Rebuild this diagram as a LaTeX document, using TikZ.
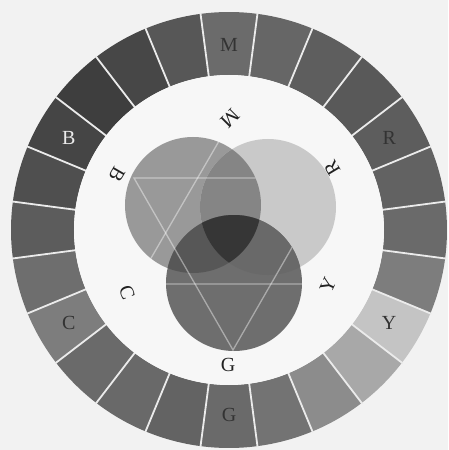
\documentclass[tikz,border=0pt]{standalone}
\usepackage{fontspec}
\setmainfont{Liberation Serif}
\definecolor{bgc}{gray}{0.95}
\definecolor{innerc}{gray}{0.97}
\definecolor{lonly}{gray}{0.60}
\definecolor{ronly}{gray}{0.79}
\definecolor{lr}{gray}{0.52}
\definecolor{bonly}{gray}{0.43}
\definecolor{lb}{gray}{0.34}
\definecolor{rb}{gray}{0.41}
\definecolor{lrb}{gray}{0.21}
\definecolor{darktext}{gray}{0.2}
\definecolor{innertext}{gray}{0.13}
\begin{document}
\begin{tikzpicture}[x=1pt,y=1pt,
  lbl/.style={font=\fontsize{20}{20}\selectfont, inner sep=0pt},
  sepline/.style={draw=white!92!black, line width=1.8pt},
  triline/.style={draw=white, draw opacity=0.42, line width=1.3pt}]
\useasboundingbox (-229,-220) rectangle (219,230);
\fill[bgc] (-229,-220) rectangle (219,230);
% outer ring
\foreach \a/\g in {90/0.42,75/0.40,60/0.37,45/0.35,30/0.365,15/0.385,0/0.415,-15/0.49,
  -30/0.77,-45/0.66,-60/0.55,-75/0.45,-90/0.415,-105/0.39,-120/0.41,-135/0.415,
  -150/0.49,-165/0.43,180/0.36,165/0.31,150/0.27,135/0.245,120/0.28,105/0.34}{
  \definecolor{segc}{gray}{\g}
  \fill[segc] (\a-7.5:155) arc[start angle=\a-7.5, end angle=\a+7.5, radius=155]
    -- (\a+7.5:218) arc[start angle=\a+7.5, end angle=\a-7.5, radius=218] -- cycle;
}
\foreach \k in {0,...,23}{
  \draw[sepline] (\k*15+7.5:154) -- (\k*15+7.5:219);
}
\fill[innerc] (0,0) circle[radius=155];
% circles
\coordinate (cL) at (-36,25);
\coordinate (cR) at (39,23);
\coordinate (cB) at (5,-53);
\fill[lonly] (cL) circle[radius=68];
\fill[ronly] (cR) circle[radius=68];
\begin{scope}
  \clip (cL) circle[radius=68];
  \fill[lr] (cR) circle[radius=68];
\end{scope}
\fill[bonly] (cB) circle[radius=68];
\begin{scope}
  \clip (cB) circle[radius=68];
  \fill[lb] (cL) circle[radius=68];
  \fill[rb] (cR) circle[radius=68];
  \clip (cL) circle[radius=68];
  \fill[lrb] (cR) circle[radius=68];
\end{scope}
% triangle lines (visible only over the two darker circles)
\coordinate (d1) at (-95,52);
\coordinate (d2) at (103,52);
\coordinate (d3) at (4,-120);
\coordinate (u1) at (4,113);
\coordinate (u2) at (-93,-54);
\coordinate (u3) at (101,-54);
\begin{scope}
  \clip (cL) circle[radius=68] (cB) circle[radius=68];
  \draw[triline] (d1) -- (d2) -- (d3) -- cycle;
  \draw[triline] (u1) -- (u2) -- (u3) -- cycle;
\end{scope}
% outer labels
\node[lbl, text=darktext] (oM) at (90:185) {M};
\node[lbl, text=darktext] (oR) at (30:185) {R};
\node[lbl, text=darktext] (oY) at (-30:185) {Y};
\node[lbl, text=darktext] (oG) at (-90:185) {G};
\node[lbl, text=darktext] (oC) at (210:185) {C};
\node[lbl, text=white!92!black] (oB) at (150:185) {B};
% inner labels
\node[lbl, text=innertext, rotate=225] (iM) at (1,112) {M};
\node[lbl, text=innertext, rotate=121] (iR) at (103,62) {R};
\node[lbl, text=innertext, rotate=65] (iY) at (99,-55) {Y};
\node[lbl, text=innertext, rotate=0] (iG) at (-1,-135) {G};
\node[lbl, text=innertext, rotate=290] (iC) at (-102,-63) {C};
\node[lbl, text=innertext, rotate=240] (iB) at (-112,55) {B};
\end{tikzpicture}
\end{document}
